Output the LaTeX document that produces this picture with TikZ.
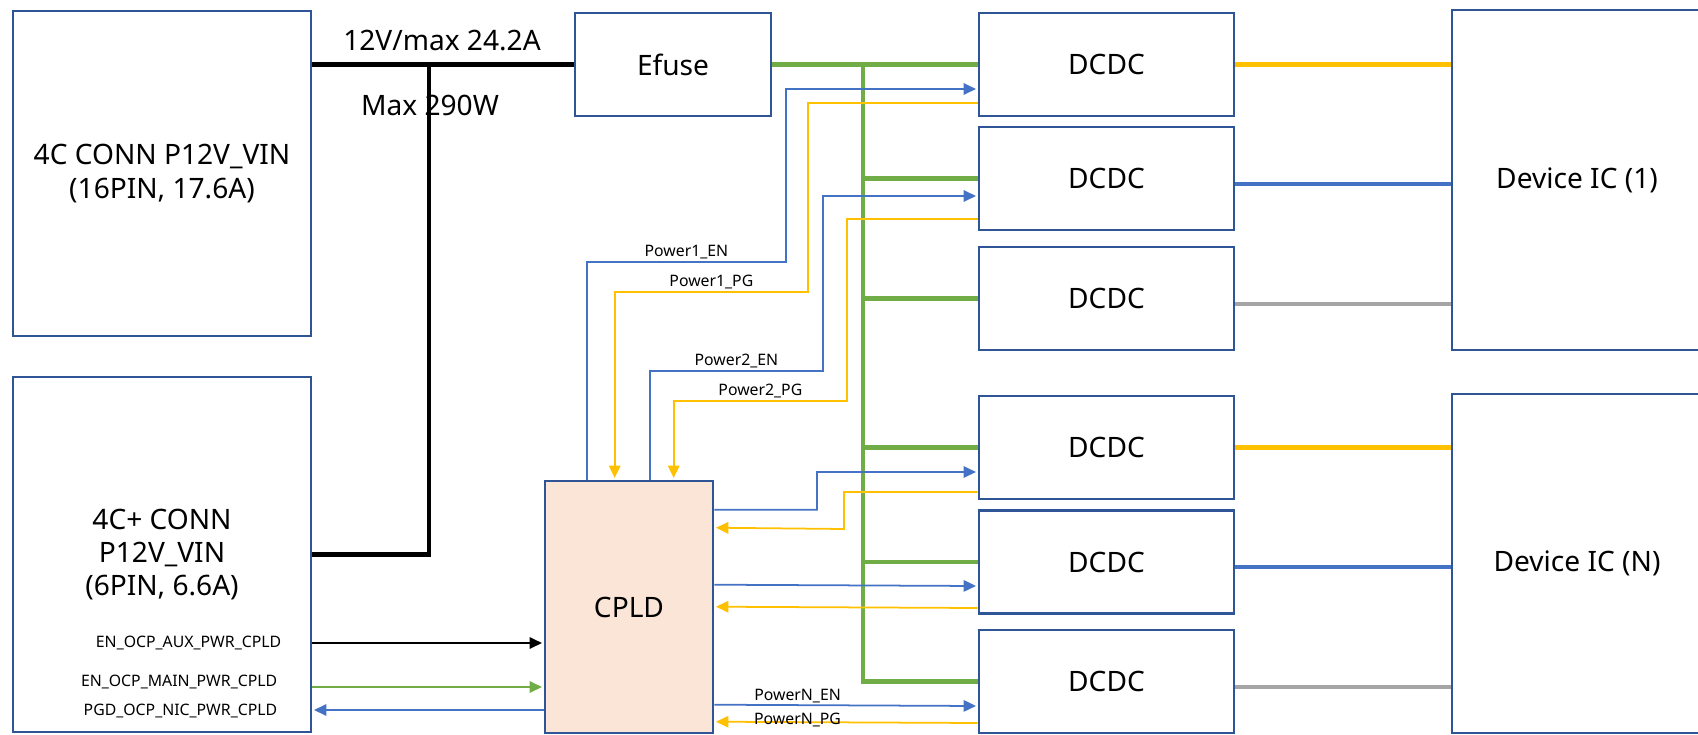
\documentclass[tikz,border=0pt]{standalone}
\usepackage{fontspec}
\setmainfont{Noto Sans}
\usepackage{tikz}
\usetikzlibrary{positioning,calc,arrows.meta}

\definecolor{boxblue}{HTML}{2F5597}
\definecolor{sigblue}{HTML}{4472C4}
\definecolor{sigyellow}{HTML}{FFC000}
\definecolor{busgreen}{HTML}{70AD47}
\definecolor{railgrey}{HTML}{A5A5A5}
\definecolor{cpldfill}{HTML}{FBE5D6}

\begin{document}
\begin{tikzpicture}[
        x=0.02cm, y=-0.02cm,
        every node/.style={font=\fontsize{16}{19}\selectfont},
        blk/.style={draw=boxblue, line width=1.5pt, align=center, inner sep=0pt},
        dcdc/.style={blk, minimum width=5.1cm, minimum height=2.06cm},
        lbl/.style={font=\fontsize{9}{10}\selectfont, inner sep=1pt},
        main/.style={line width=2.5pt},
        pwr/.style={draw=busgreen, line width=2.8pt},
        rail/.style={line width=2.3pt},
        sig/.style={line width=1pt, -{Triangle[length=7pt, width=6.5pt]}, shorten >=1pt},
        en/.style={sig, draw=sigblue},
        pg/.style={sig, draw=sigyellow}
      ]
  \useasboundingbox (0,0) rectangle (1698,734);

  \node[blk, minimum width=5.96cm, minimum height=6.5cm] (conA) at (162,173.5)
    {4C CONN P12V\_VIN\\(16PIN, 17.6A)};
  \node[blk, minimum width=5.96cm, minimum height=7.1cm] (conB) at (162,554.5)
    {4C+ CONN\\P12V\_VIN\\(6PIN, 6.6A)};
  \node[blk, minimum width=3.92cm, minimum height=2.06cm] (efuse) at (673,64.5) {Efuse};
  \node[blk, fill=cpldfill, minimum width=3.36cm, minimum height=5.04cm] (cpld) at (629,607) {CPLD};

  \node[dcdc] (d1) at (1106.5,64.5) {DCDC};
  \node[dcdc] (d2) at (1106.5,178.5) {DCDC};
  \node[dcdc] (d3) at (1106.5,298.5) {DCDC};
  \node[dcdc] (d4) at (1106.5,447.5) {DCDC};
  \node[dcdc] (d5) at (1106.5,562) {DCDC};
  \node[dcdc] (d6) at (1106.5,681.5) {DCDC};

  \node[blk, minimum width=5cm, minimum height=6.8cm] (dev1) at (1577,180) {Device IC (1)};
  \node[blk, minimum width=5cm, minimum height=6.78cm] (devN) at (1577,563.5) {Device IC (N)};

  \node (vlbl) at (442,41) {12V/max 24.2A};
  \node (wlbl) at (430,105) {Max 290W};

  % 12V input
  \coordinate (tap) at (429,64.5);
  \draw[main] (conA.east |- efuse.west) -- (efuse.west);
  \draw[main] (tap) |- (conB.east);

  % green bus
  \coordinate (bus) at (863,64.5);
  \draw[pwr] (efuse.east) -- (d1.west);
  \draw[pwr] (bus) |- (d6.west);
  \foreach \d in {d2,d3,d4,d5}
    \draw[pwr] (bus |- \d.west) -- (\d.west);

  % rails to the devices
  \draw[rail, draw=sigyellow] (d1.east) -- (d1.east -| dev1.west);
  \draw[rail, draw=sigblue] ($(d2.east)+(0,5.5)$) -- ($(d2.east -| dev1.west)+(0,5.5)$);
  \draw[rail, draw=railgrey] ($(d3.east)+(0,5.5)$) -- ($(d3.east -| dev1.west)+(0,5.5)$);
  \draw[rail, draw=sigyellow] (d4.east) -- (d4.east -| devN.west);
  \draw[rail, draw=sigblue] ($(d5.east)+(0,5)$) -- ($(d5.east -| devN.west)+(0,5)$);
  \draw[rail, draw=railgrey] ($(d6.east)+(0,5.5)$) -- ($(d6.east -| devN.west)+(0,5.5)$);

  % enable / power good
  \draw[en] ($(cpld.north west)+(43,0)$) |- node[lbl, above, pos=0.75] (p1en) {Power1\_EN}
    (786,262) |- ($(d1.west)+(0,24.5)$);
  \draw[pg] ($(d1.west)+(0,38.5)$) -| (808,292) -| node[lbl, above, pos=0.25] (p1pg) {Power1\_PG}
    ($(cpld.north west)+(71,0)$);
  \draw[en] ($(cpld.north west)+(106,0)$) |- node[lbl, above, pos=0.75] (p2en) {Power2\_EN}
    (823,371) |- ($(d2.west)+(0,17.5)$);
  \draw[pg] ($(d2.west)+(0,40.5)$) -| (847,401) -| node[lbl, above, pos=0.25] (p2pg) {Power2\_PG}
    ($(cpld.north west)+(130,0)$);

  \draw[en] ($(cpld.north east)+(0,30)$) -| (817,472) -- ($(d4.west)+(0,24.5)$);
  \draw[pg] ($(d4.west)+(0,44.5)$) -| (844,529) -- ($(cpld.north east)+(0,48)$);
  \draw[en] ($(cpld.north east)+(0,105)$) -- ($(d5.west)+(0,24)$);
  \draw[pg] ($(d5.west)+(0,46)$) -- ($(cpld.north east)+(0,127)$);
  \draw[en] ($(cpld.north east)+(0,225)$) -- node[lbl, above, pos=0.316] (pnen) {PowerN\_EN}
    ($(d6.west)+(0,24.5)$);
  \draw[pg] ($(d6.west)+(0,41.5)$) -- node[lbl, above, pos=0.684, yshift=-4pt] (pnpg) {PowerN\_PG}
    ($(cpld.north east)+(0,242)$);

  % OCP signals
  \coordinate (aux) at ($(conB.east)+(0,88.5)$);
  \coordinate (mainen) at ($(conB.east)+(0,132.5)$);
  \coordinate (nic) at ($(conB.east)+(0,155.5)$);
  \node[lbl, anchor=east] (auxlbl) at ($(aux)+(-29,0)$) {EN\_OCP\_AUX\_PWR\_CPLD};
  \node[lbl, anchor=east] (mainlbl) at ($(mainen)+(-33,-5)$) {EN\_OCP\_MAIN\_PWR\_CPLD};
  \node[lbl, anchor=east] (niclbl) at ($(nic)+(-33,1)$) {PGD\_OCP\_NIC\_PWR\_CPLD};
  \draw[sig] (aux) -- (aux -| cpld.west);
  \draw[sig, draw=busgreen] (mainen) -- (mainen -| cpld.west);
  \draw[en] (nic -| cpld.west) -- (nic);

\end{tikzpicture}
\end{document}
